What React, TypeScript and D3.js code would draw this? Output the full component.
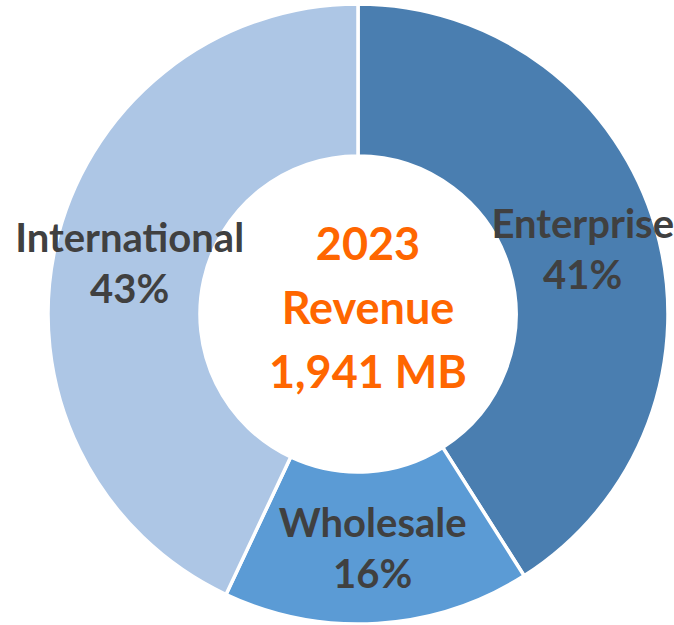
import { useMemo } from 'react';
import * as d3 from 'd3';

const segments = ['Enterprise', 'Wholesale', 'International'];
const shares = [41, 16, 43];
const colors = ['#4A7EB0', '#5B9BD5', '#ADC6E5'];
const centerLines = ['2023', 'Revenue', '1,941 MB'];

const width = 674;
const height = 625;
const cx = 358;
const cy = 314;
const outerR = 310;
const innerR = 158;
const font = 'Lato, "Open Sans", sans-serif';

export default function App() {
  const arcs = useMemo(() => {
    const pie = d3.pie<number>().sort(null).value((d) => d);
    return pie(shares);
  }, []);

  const arc = d3.arc<d3.PieArcDatum<number>>().innerRadius(innerR).outerRadius(outerR);

  return (
    <div style={{ position: 'absolute', left: 0, top: 0 }}>
      <svg width={width} height={height} style={{ display: 'block', background: '#fff' }}>
        <g transform={`translate(${cx},${cy})`}>
          {arcs.map((a, i) => (
            <path key={segments[i]} d={arc(a) || ''} fill={colors[i]} stroke="#fff" strokeWidth={3.5} />
          ))}
          {arcs.map((a, i) => {
            const [x, y] = arc.centroid(a);
            return (
              <text
                key={'l' + segments[i]}
                x={x}
                y={y}
                textAnchor="middle"
                fill="#404040"
                fontFamily={font}
                fontWeight={700}
                fontSize={40}
              >
                <tspan x={x} dy={-11}>{segments[i]}</tspan>
                <tspan x={x} dy={51}>{shares[i]}%</tspan>
              </text>
            );
          })}
          <text textAnchor="middle" fill="#FF6600" fontFamily={font} fontWeight={700} fontSize={45}>
            {centerLines.map((t, i) => (
              <tspan key={t} x={10} y={-54 + i * 64}>{t}</tspan>
            ))}
          </text>
        </g>
      </svg>
    </div>
  );
}
